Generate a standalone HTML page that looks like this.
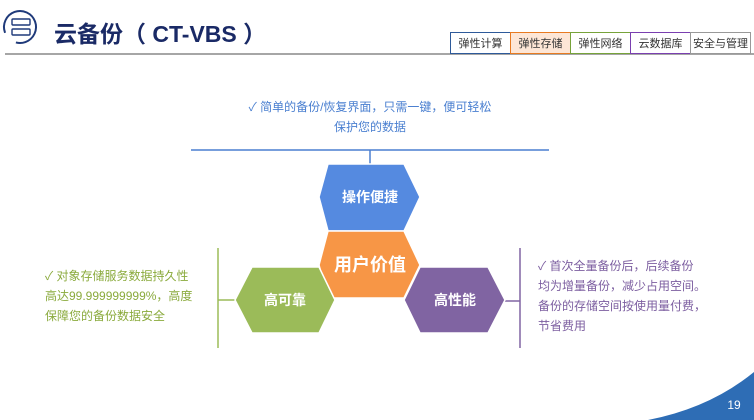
<!DOCTYPE html>
<html><head><meta charset="utf-8"><style>
body{margin:0;width:754px;height:420px;overflow:hidden;background:#fff;font-family:"Liberation Sans","Noto Sans CJK SC",sans-serif;position:relative}
.t{position:absolute;font-size:12px;line-height:20px;white-space:nowrap}
.tab{position:absolute;top:32px;height:22px;line-height:22px;font-size:11px;color:#333;text-align:center;box-sizing:border-box;border:1.5px solid}
</style></head><body>
<svg width="754" height="420" style="position:absolute;left:0;top:0">
<circle cx="20" cy="27" r="16" fill="none" stroke="#1f3a7a" stroke-width="2" stroke-dasharray="85 15" transform="rotate(160 20 27)"/>
<rect x="12" y="19" width="18" height="6" rx="1" fill="none" stroke="#1f3a7a" stroke-width="1.4"/>
<rect x="12" y="29" width="18" height="6" rx="1" fill="none" stroke="#1f3a7a" stroke-width="1.4"/>
<line x1="5" y1="54" x2="754" y2="54" stroke="#888" stroke-width="1.5"/>
<line x1="191" y1="150" x2="549" y2="150" stroke="#4a7fd0" stroke-width="1.5"/>
<line x1="370" y1="150" x2="370" y2="164" stroke="#4a7fd0" stroke-width="1.5"/>
<line x1="218" y1="248" x2="218" y2="348" stroke="#9cbc58" stroke-width="1.5"/>
<line x1="218" y1="300" x2="236" y2="300" stroke="#9cbc58" stroke-width="1.5"/>
<line x1="520" y1="248" x2="520" y2="348" stroke="#8064a2" stroke-width="1.5"/>
<line x1="504" y1="301" x2="520" y2="301" stroke="#8064a2" stroke-width="1.5"/>
<polygon points="328,164 404,164 420,197 404,231 328,231 319,197" fill="#558ae0" stroke="#fff" stroke-width="1.5"/>
<polygon points="328,231 404,231 420,265 404,298 328,298 319,265" fill="#f79646" stroke="#fff" stroke-width="1.5"/>
<polygon points="252,267 319,267 335,300 319,333 252,333 235,300" fill="#9bbb59" stroke="#fff" stroke-width="1.5"/>
<polygon points="420,267 488,267 505,300 488,333 420,333 404,300" fill="#8064a2" stroke="#fff" stroke-width="1.5"/>
<text x="370" y="202" font-size="14" font-weight="bold" fill="#fff" text-anchor="middle" font-family="Liberation Sans,Noto Sans CJK SC,sans-serif">操作便捷</text>
<text x="370" y="271" font-size="18" font-weight="bold" fill="#fff" text-anchor="middle" font-family="Liberation Sans,Noto Sans CJK SC,sans-serif">用户价值</text>
<text x="285" y="305" font-size="14" font-weight="bold" fill="#fff" text-anchor="middle" font-family="Liberation Sans,Noto Sans CJK SC,sans-serif">高可靠</text>
<text x="455" y="305" font-size="14" font-weight="bold" fill="#fff" text-anchor="middle" font-family="Liberation Sans,Noto Sans CJK SC,sans-serif">高性能</text>
<path d="M648,420 Q710,408 754,372 L754,420 Z" fill="#2e6db5"/>
<text x="734" y="409" font-size="12" fill="#fff" text-anchor="middle" font-family="Liberation Sans,sans-serif">19</text>
</svg>
<div style="position:absolute;left:54px;top:15px;font-size:23px;font-weight:bold;color:#1a2a66;white-space:nowrap">云备份（ CT-VBS ）</div>
<div class="tab" style="left:450px;width:61px;border-color:#2e5a9a">弹性计算</div>
<div class="tab" style="left:510px;width:61px;border-color:#e87a20;background:#fde6d6">弹性存储</div>
<div class="tab" style="left:570px;width:61px;border-color:#77a33a">弹性网络</div>
<div class="tab" style="left:630px;width:61px;border-color:#7a3fb0">云数据库</div>
<div class="tab" style="left:690px;width:61px;border-color:#999">安全与管理</div>
<div class="t" style="left:0;width:740px;top:97px;text-align:center;color:#4a7fd0">✓ 简单的备份/恢复界面，只需一键，便可轻松<br>保护您的数据</div>
<div class="t" style="left:45px;top:266px;color:#8aaa3c">✓ 对象存储服务数据持久性<br>高达99.999999999%，高度<br>保障您的备份数据安全</div>
<div class="t" style="left:538px;top:256px;color:#7c5ea0">✓ 首次全量备份后，后续备份<br>均为增量备份，减少占用空间。<br>备份的存储空间按使用量付费，<br>节省费用</div>
</body></html>
